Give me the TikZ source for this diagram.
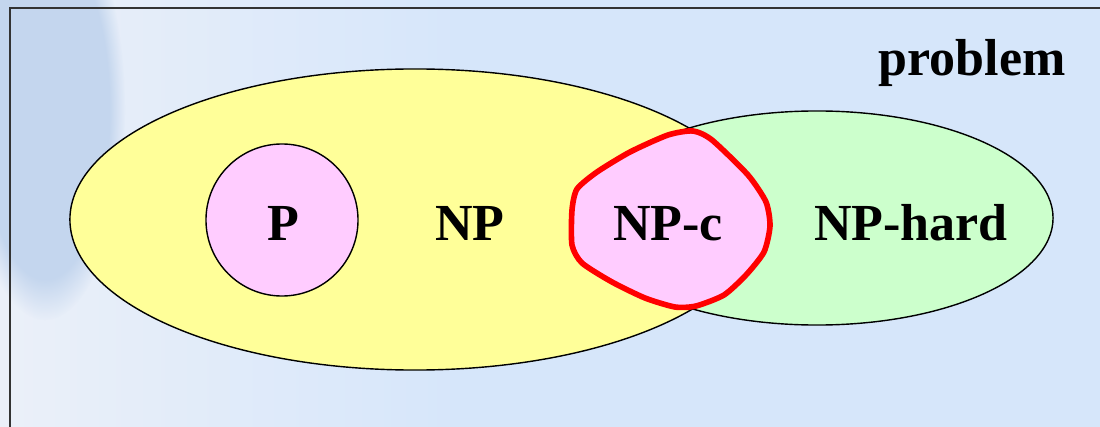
\documentclass[tikz,border=0pt]{standalone}
\usepackage{fontspec}
\setmainfont{Liberation Serif}
\usetikzlibrary{shapes,positioning,calc,backgrounds,fadings}

\definecolor{slidebg}{HTML}{D6E6FA}
\definecolor{slidefade}{HTML}{EBF0F9}
\definecolor{pillar}{HTML}{C4D6EE}
\definecolor{npyellow}{HTML}{FFFF99}
\definecolor{hardgreen}{HTML}{CCFFCC}
\definecolor{setpink}{HTML}{FFCCFF}

\begin{document}
\begin{tikzpicture}[
    x=0.025cm, y=-0.025cm,
    set/.style={draw, ellipse, inner sep=0pt, line width=1pt},
    blob/.style={draw=red, line width=4pt, fill=setpink},
    label/.style={font=\fontsize{37}{44}\selectfont\bfseries, anchor=base},
]
\useasboundingbox (0,0) rectangle (1100,427);

% Slide background
\fill[slidebg] (0,0) rectangle (1100,427);
\shade[left color=slidefade, right color=slidebg] (0,0) rectangle (460,427);
\fill[pillar, path fading=circle with fuzzy edge 20 percent] (45,110) ellipse [x radius=80, y radius=210];
\draw[line width=1pt, black!80] (10,427) -- (10,8) -- (1100,8);

% Sets
\node[set, fill=npyellow, minimum width=17.25cm, minimum height=7.525cm] (np) at (415,219.5) {};
\node[set, circle, fill=setpink, minimum size=3.8cm] (p) at (282,220) {};
\node[set, fill=hardgreen, minimum width=11.8cm, minimum height=5.35cm] (nphard) at (817,218) {};

% NP-complete
\draw[blob] plot[smooth cycle, tension=0.4] coordinates {
    (693,131) (712,140) (748,175) (766,202) (770,226) (764,252)
    (746,275) (724,295) (696,306) (675,307) (645,298) (612,282)
    (582,263) (572,245) (572,210) (577,189) (597,172) (630,152) (668,135)};

% Labels
\node[label] (plabel) at (283,240) {P};
\node[label] (nplabel) at (470,240) {NP};
\node[label] (npclabel) at (668,240) {NP-c};
\node[label] (hardlabel) at (911,240) {NP-hard};
\node[label] (problem) at (972,76) {problem};

\end{tikzpicture}
\end{document}
